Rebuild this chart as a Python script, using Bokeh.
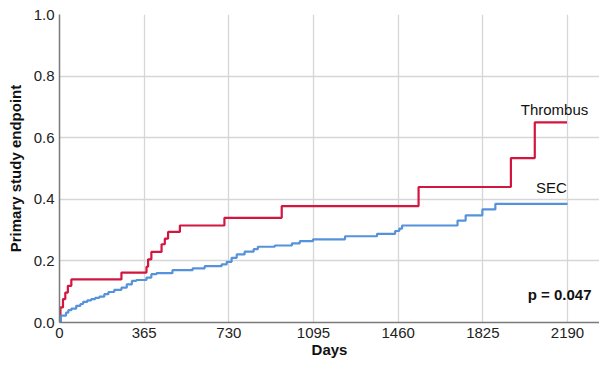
from bokeh.plotting import figure
from bokeh.models import FixedTicker, Range1d, Label, CustomJSTickFormatter
from bokeh.embed import file_html
from bokeh.resources import INLINE

# Data
thrombus_days = [0, 4, 15, 25, 36, 51, 267, 375, 382, 396, 440, 454, 468, 519, 711, 958, 1548, 1946, 2049, 2188]
thrombus_vals = [0, 0.049, 0.076, 0.097, 0.119, 0.14, 0.162, 0.181, 0.205, 0.229, 0.254, 0.272, 0.294, 0.315,
                 0.34, 0.378, 0.44, 0.534, 0.65, 0.65]

sec_days = [0, 6, 28, 38, 51, 72, 90, 102, 120, 137, 154, 172, 193, 211, 236, 267, 290, 312, 331, 375, 396,
            418, 487, 574, 626, 699, 721, 742, 764, 798, 837, 855, 928, 1002, 1036, 1093, 1231, 1369, 1447,
            1465, 1477, 1716, 1751, 1823, 1879, 2190]
sec_vals = [0, 0.022, 0.032, 0.04, 0.045, 0.054, 0.06, 0.067, 0.072, 0.076, 0.08, 0.084, 0.092, 0.099, 0.106,
            0.113, 0.124, 0.135, 0.138, 0.146, 0.157, 0.16, 0.17, 0.176, 0.183, 0.189, 0.197, 0.21, 0.221, 0.23,
            0.238, 0.246, 0.25, 0.257, 0.264, 0.27, 0.28, 0.288, 0.297, 0.305, 0.315, 0.331, 0.348, 0.367,
            0.385, 0.385]

x_ticks = [0, 365, 730, 1095, 1460, 1825, 2190]
y_ticks = [0.0, 0.2, 0.4, 0.6, 0.8, 1.0]

FONT = "Liberation Sans"

p = figure(width=599, height=361, output_backend="svg", toolbar_location=None,
           x_range=Range1d(0, 2328), y_range=Range1d(0, 1.0),
           min_border_left=59, min_border_top=14, min_border_bottom=39, min_border_right=0)
p.outline_line_color = None
p.background_fill_color = "white"

p.step(thrombus_days, thrombus_vals, mode="after", line_color="#d2163f", line_width=2.2)
p.step(sec_days, sec_vals, mode="after", line_color="#5592dc", line_width=2.2)

p.xaxis.ticker = FixedTicker(ticks=x_ticks)
p.yaxis.ticker = FixedTicker(ticks=y_ticks)
p.yaxis.formatter = CustomJSTickFormatter(code="return tick.toFixed(1);")

for ax in (p.xaxis, p.yaxis):
    ax.axis_line_color = "#7a7a7a"
    ax.axis_line_width = 1.5
    ax.major_tick_line_color = None
    ax.minor_tick_line_color = None
    ax.major_tick_out = 0
    ax.major_tick_in = 0
    ax.major_label_text_font = FONT
    ax.major_label_text_font_size = "15px"
    ax.major_label_text_color = "#222222"
    ax.axis_label_text_font = FONT
    ax.axis_label_text_font_size = "15px"
    ax.axis_label_text_font_style = "bold"
    ax.axis_label_text_color = "#111111"

p.xaxis.axis_label = "Days"
p.yaxis.axis_label = "Primary study endpoint"
p.xaxis.major_label_standoff = 5
p.xaxis.axis_label_standoff = 0
p.yaxis.major_label_standoff = 5
p.yaxis.axis_label_standoff = 7

p.xgrid.grid_line_color = "#d6d6d6"
p.ygrid.grid_line_color = "#d6d6d6"
p.xgrid.grid_line_width = 1.3
p.ygrid.grid_line_width = 1.3

p.add_layout(Label(x=2134, y=0.691, text="Thrombus", text_font=FONT, text_font_size="15px",
                   text_color="#111111", text_align="center", text_baseline="middle"))
p.add_layout(Label(x=2121, y=0.437, text="SEC", text_font=FONT, text_font_size="15px",
                   text_color="#111111", text_align="center", text_baseline="middle"))
p.add_layout(Label(x=2156, y=0.092, text="p = 0.047", text_font=FONT, text_font_size="15px",
                   text_font_style="bold", text_color="#111111", text_align="center",
                   text_baseline="middle"))

open("out.html", "w").write(file_html(p, INLINE))
